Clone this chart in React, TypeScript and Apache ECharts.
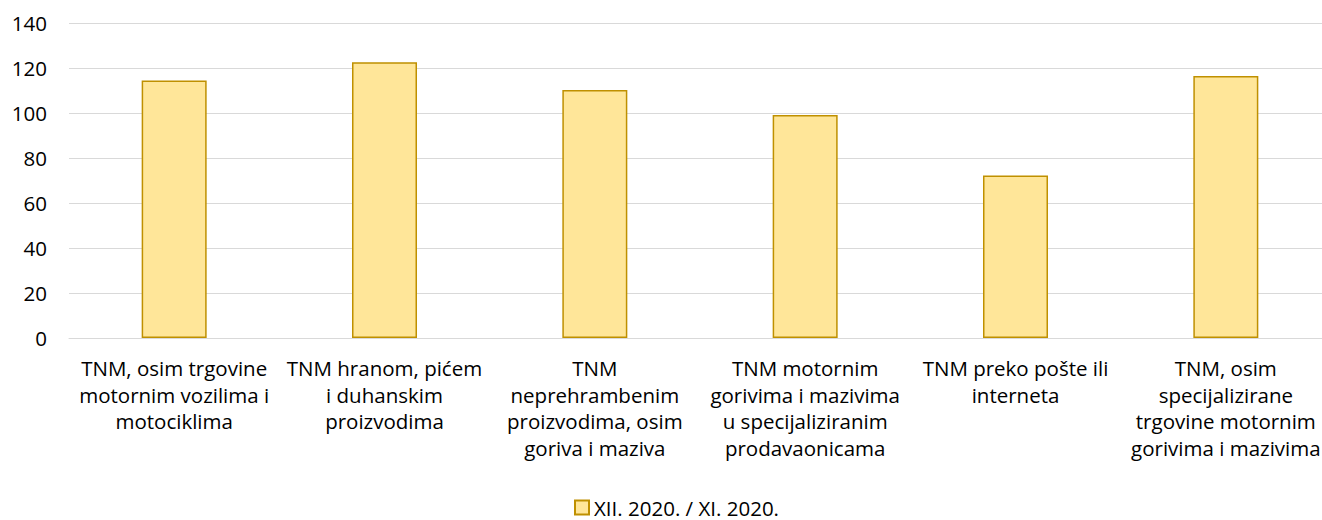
import React, { useEffect, useRef } from "react";
import * as echarts from "echarts";

const categories: string[] = [
  "TNM, osim trgovine\nmotornim vozilima i\nmotociklima",
  "TNM hranom, pićem\ni duhanskim\nproizvodima",
  "TNM\nneprehrambenim\nproizvodima, osim\ngoriva i maziva",
  "TNM motornim\ngorivima i mazivima\nu specijaliziranim\nprodavaonicama",
  "TNM preko pošte ili\ninterneta",
  "TNM, osim\nspecijalizirane\ntrgovine motornim\ngorivima i mazivima",
];
const seriesName = "XII. 2020. / XI. 2020.";
const values: number[] = [114.5, 122.6, 110.2, 99.1, 72.2, 116.4];
const yMin = 0;
const yMax = 140;
const yInterval = 20;

const FONT = "'Open Sans', Lato, sans-serif";
const FS = 20.5;

export default function App() {
  const ref = useRef<HTMLDivElement>(null);
  useEffect(() => {
    document.body.style.margin = "0";
    document.body.style.overflow = "hidden";
    if (!ref.current) return;
    const chart = echarts.init(ref.current, undefined, { renderer: "svg" });
    chart.setOption({
      animation: false,
      backgroundColor: "#ffffff",
      textStyle: { fontFamily: FONT },
      grid: { left: 69, right: 0, top: 23, bottom: 182, containLabel: false },
      legend: {
        data: [seriesName],
        left: 574,
        top: 497,
        padding: 0,
        itemWidth: 14,
        itemHeight: 14,
        icon: "rect",
        textStyle: { fontFamily: FONT, fontSize: FS, color: "#000000", lineHeight: 18 },
      },
      xAxis: {
        type: "category",
        data: categories,
        axisLine: { show: true, lineStyle: { color: "#D9D9D9", width: 1 } },
        axisTick: { show: false },
        axisLabel: {
          interval: 0,
          margin: 17,
          fontFamily: FONT,
          fontSize: FS,
          color: "#000000",
          lineHeight: 26.5,
          align: "center",
        },
      },
      yAxis: {
        type: "value",
        min: yMin,
        max: yMax,
        interval: yInterval,
        axisLine: { show: false },
        axisTick: { show: false },
        splitLine: { lineStyle: { color: "#D9D9D9", width: 1 } },
        axisLabel: {
          margin: 22,
          fontFamily: FONT,
          fontSize: FS,
          color: "#000000",
        },
      },
      series: [
        {
          name: seriesName,
          type: "bar",
          data: values,
          barWidth: 65,
          itemStyle: {
            color: "#FFE699",
            borderColor: "#BF9000",
            borderWidth: 1.5,
          },
        },
      ],
    });
    return () => chart.dispose();
  }, []);
  return (
    <div style={{ width: 1322, height: 520, overflow: "hidden" }}>
      <div ref={ref} style={{ width: 1331, height: 520 }} />
    </div>
  );
}
